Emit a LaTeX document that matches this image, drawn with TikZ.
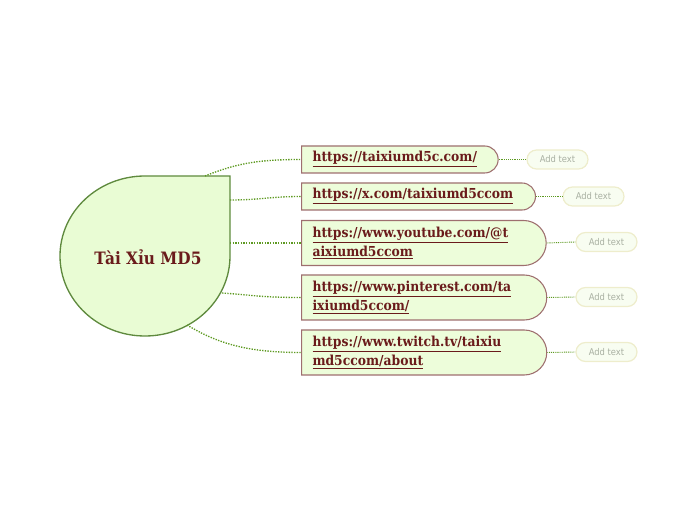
\documentclass[tikz,border=0pt]{standalone}
\usepackage{fontspec}
\setmainfont{DejaVu Serif}
\newfontfamily\slabfont{DejaVu Serif Condensed}
\newfontfamily\notefont{DejaVu Sans Condensed}
\usetikzlibrary{shapes.misc}
\definecolor{inkred}{HTML}{6A1B1B}
\definecolor{rootfill}{HTML}{E9FCD4}
\definecolor{rootborder}{HTML}{5F8A3E}
\definecolor{linkfill}{HTML}{EDFDDA}
\definecolor{linkborder}{HTML}{9E6F6F}
\definecolor{notefill}{HTML}{F8FDF1}
\definecolor{noteborder}{HTML}{EEEDCC}
\definecolor{notegray}{HTML}{A9B0A2}
\definecolor{branchgreen}{HTML}{5E9A22}

\begin{document}
\begin{tikzpicture}[x=0.75pt,y=-0.75pt,
    link/.style={rounded rectangle, rounded rectangle west arc=none,
                 draw=linkborder, fill=linkfill, line width=0.8pt,
                 inner xsep=8.25pt, inner ysep=0pt, align=left, anchor=west,
                 text=inkred, font=\slabfont\bfseries\fontsize{10.3}{14}\selectfont},
    note/.style={rounded rectangle, draw=noteborder, fill=notefill, line width=0.9pt,
                 minimum width=45.75pt, minimum height=14.25pt, inner sep=0pt,
                 text=notegray, font=\notefont\fontsize{7}{8}\selectfont},
    branch/.style={draw=branchgreen, line width=1pt, dash pattern=on 1pt off 1pt},
    leaf/.style={draw=branchgreen, line width=0.7pt, dash pattern=on 0.7pt off 0.7pt},
  ]
  \useasboundingbox (0,0) rectangle (697,520);

  % central topic
  \draw[fill=rootfill, draw=rootborder, line width=1pt]
    (145,176) -- (230,176) -- (230,256)
    arc[start angle=0, end angle=270, x radius=85, y radius=80] -- cycle;
  \node[text=inkred, font=\slabfont\bfseries\fontsize{12.8}{15}\selectfont] (root) at (148,257) {Tài Xỉu MD5};
  \coordinate (r1) at (205,176);
  \coordinate (r2) at (230,200);
  \coordinate (r3) at (230,243);
  \coordinate (r4) at (222,293);
  \coordinate (r5) at (187,325);

  % links
  \node[link, text width=129pt, minimum height=20.25pt] (u1) at (301,159.5) {\underline{https://taixiumd5c.com/}};
  \node[link, text width=157pt, minimum height=20.25pt] (u2) at (301,196.5) {\underline{https://x.com/taixiumd5ccom}};
  \node[link, text width=162pt, minimum height=33.75pt] (u3) at (301,243) {\underline{https://www.youtube.com/@t}\\\underline{aixiumd5ccom}};
  \node[link, text width=162pt, minimum height=33.75pt] (u4) at (301,297.5) {\underline{https://www.pinterest.com/ta}\\\underline{ixiumd5ccom/}};
  \node[link, text width=162pt, minimum height=33.75pt] (u5) at (301,352.5) {\underline{https://www.twitch.tv/taixiu}\\\underline{md5ccom/about}};

  % notes
  \node[note] (n1) at (557.5,159.5) {Add text};
  \node[note] (n2) at (593.5,196.5) {Add text};
  \node[note] (n3) at (606.5,242) {Add text};
  \node[note] (n4) at (606.5,297) {Add text};
  \node[note] (n5) at (606.5,352) {Add text};

  % branches
  \draw[branch] (r1) .. controls +(30,-12) and +(-45,0) .. (u1.west);
  \draw[branch] (r2) .. controls +(30,0) and +(-30,0) .. (u2.west);
  \draw[branch] (r3) -- (u3.west);
  \draw[branch] (r4) .. controls +(30,2) and +(-40,0) .. (u4.west);
  \draw[branch] (r5) .. controls +(30,18) and +(-55,0) .. (u5.west);

  \foreach \i in {1,...,5}
    \draw[leaf] (u\i.east) -- (n\i.west);
\end{tikzpicture}
\end{document}
